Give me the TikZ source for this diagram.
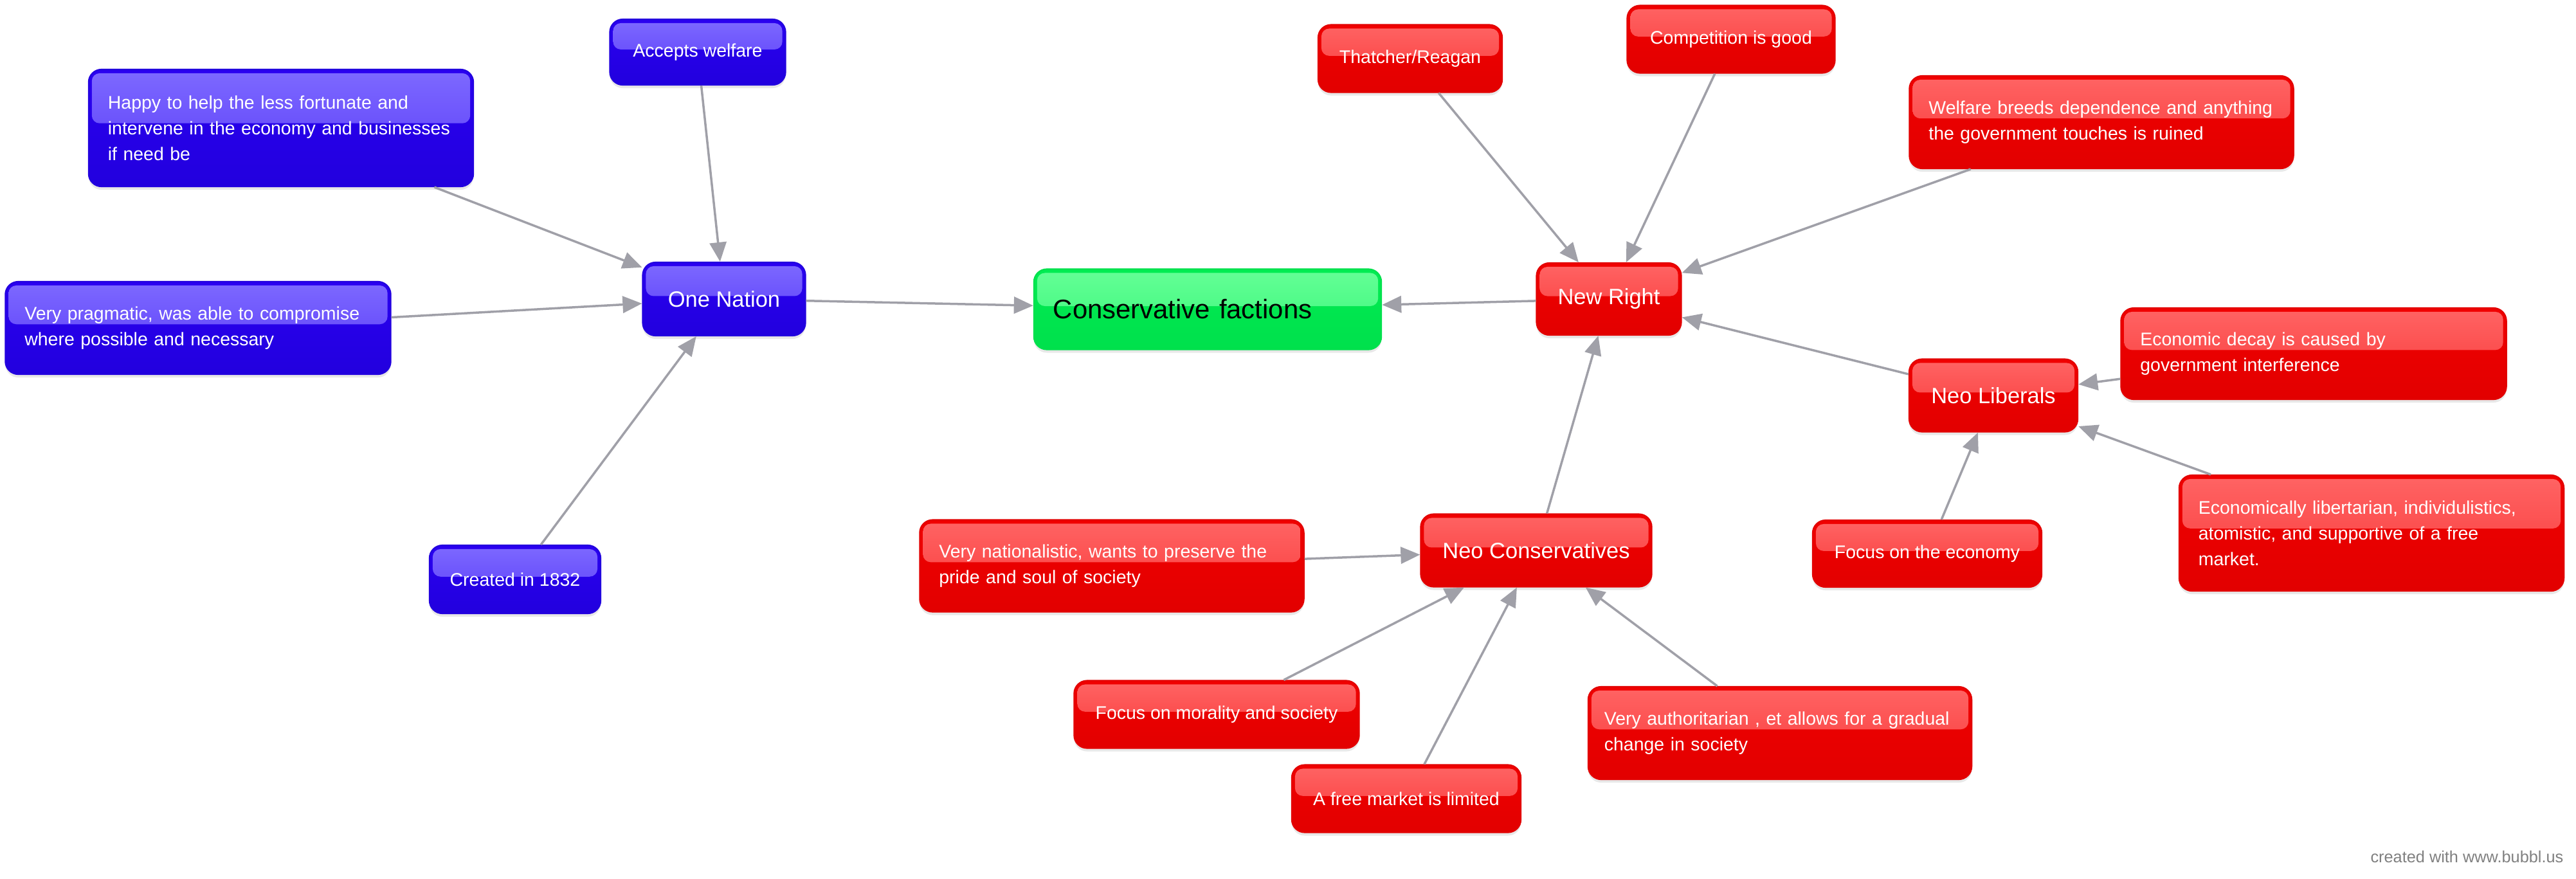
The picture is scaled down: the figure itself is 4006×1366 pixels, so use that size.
\documentclass[tikz,border=0pt]{standalone}
\usepackage{fontspec}
\setmainfont{Liberation Sans}
\usepackage{tikz}
\usetikzlibrary{arrows.meta, positioning, shadows, calc}

\hyphenpenalty=10000

\definecolor{bluebase}{RGB}{42,0,240}
\definecolor{bluedark}{RGB}{34,0,222}
\definecolor{bluelight}{RGB}{125,105,255}
\definecolor{redbase}{RGB}{240,0,0}
\definecolor{reddark}{RGB}{226,0,0}
\definecolor{redlight}{RGB}{255,100,100}
\definecolor{greenbase}{RGB}{0,236,82}
\definecolor{greendark}{RGB}{0,224,76}
\definecolor{greenlight}{RGB}{100,255,150}
\definecolor{linkgray}{RGB}{160,160,168}

\begin{document}
\begin{tikzpicture}[
		x=0.01cm, y=-0.01cm,
		% Glossy bubble, colour family given as argument
		bubble/.style={
			rectangle,
			draw=#1dark,
			line width=0.6pt,
			rounded corners=0.2cm,
			top color=#1base,
			bottom color=#1dark,
			inner xsep=0.3cm,
			inner ysep=0cm,
			drop shadow={opacity=0.18, shadow xshift=0cm, shadow yshift=-0.05cm},
			path picture={
				\shade[top color=#1light, bottom color=#1light!55!#1base, rounded corners=0.12cm]
				([xshift=0.05cm, yshift=-0.06cm]path picture bounding box.north west) rectangle
				([xshift=-0.05cm]$(path picture bounding box.north east)!0.46!(path picture bounding box.south east)$);
			}
		},
		small_text/.style={font=\fontsize{8.1}{11.4}\selectfont},
		main_text/.style={font=\fontsize{9.8}{12}\selectfont},
		blue_node/.style={bubble=blue, text=white, small_text},
		red_node/.style={bubble=red, text=white, small_text},
		green_node/.style={bubble=green, text=black, font=\fontsize{11.9}{14}\selectfont},
		arrow_style/.style={
			-{Triangle[length=0.3cm, width=0.26cm]},
			line width=0.035cm,
			draw=linkgray
		},
		]
		
		\useasboundingbox (0,0) rectangle (4006,1366);
		\fill[white] (0,0) rectangle (4006,1366);
		
		% ----- Centre -----
		\node[green_node, minimum width=5.4cm, minimum height=1.25cm, align=left, text width=4.8cm] (factions) at (1878,481) {Conservative factions};
		
		% ----- One Nation side -----
		\node[blue_node, main_text, minimum width=2.53cm, minimum height=1.14cm] (one_nation) at (1126,465) {One Nation};
		\node[blue_node, minimum width=2.73cm, minimum height=1.02cm] (accepts) at (1085,81) {Accepts welfare};
		\node[blue_node, text width=5.38cm, minimum height=1.82cm, align=left] (happy) at (437,199) {Happy to help the less fortunate and\\intervene in the economy and businesses\\if need be};
		\node[blue_node, text width=5.39cm, minimum height=1.44cm, align=left] (pragmatic) at (308,510) {Very pragmatic, was able to compromise\\where possible and necessary};
		\node[blue_node, minimum width=2.66cm, minimum height=1.06cm] (created) at (801,901) {Created in 1832};
		
		% ----- New Right side -----
		\node[red_node, main_text, minimum width=2.25cm, minimum height=1.12cm] (new_right) at (2502,465) {New Right};
		\node[red_node, minimum width=2.86cm, minimum height=1.05cm] (thatcher) at (2193,91) {Thatcher/Reagan};
		\node[red_node, minimum width=3.23cm, minimum height=1.05cm] (competition) at (2692,61) {Competition is good};
		\node[red_node, text width=5.37cm, minimum height=1.44cm, align=left] (welfare) at (3268,190) {Welfare breeds dependence and anything\\the government touches is ruined};
		
		% Neo Liberals
		\node[red_node, main_text, minimum width=2.62cm, minimum height=1.13cm] (neo_lib) at (3100,615) {Neo Liberals};
		\node[red_node, text width=5.39cm, minimum height=1.42cm, align=left] (econ_decay) at (3598,550) {Economic decay is caused by\\government interference};
		\node[red_node, minimum width=3.56cm, minimum height=1.04cm] (focus_econ) at (2997,861) {Focus on the economy};
		\node[red_node, text width=5.38cm, minimum height=1.8cm, align=left] (econ_lib) at (3688,829) {Economically libertarian, individulistics,\\atomistic, and supportive of a free\\market.};
		
		% Neo Conservatives
		\node[red_node, main_text, minimum width=3.59cm, minimum height=1.13cm] (neo_cons) at (2389,856) {Neo Conservatives};
		\node[red_node, text width=5.37cm, minimum height=1.43cm, align=left] (nationalistic) at (1729,880) {Very nationalistic, wants to preserve the\\pride and soul of society};
		\node[red_node, minimum width=4.43cm, minimum height=1.05cm] (morality) at (1892,1111) {Focus on morality and society};
		\node[red_node, minimum width=3.56cm, minimum height=1.05cm] (free_market) at (2187,1242) {A free market is limited};
		\node[red_node, inner xsep=0.25cm, text width=5.46cm, minimum height=1.44cm, align=left] (authoritarian) at (2768,1140) {Very authoritarian , et allows for a gradual\\change in society};
		
		\node[anchor=east, text=gray, font=\fontsize{7.2}{9}\selectfont, inner sep=0pt] (credit) at (3987,1332) {created with www.bubbl.us};
		
		% ----- Arrows -----
		\draw[arrow_style] (happy) -- (one_nation);
		\draw[arrow_style] (accepts) -- (one_nation);
		\draw[arrow_style] (pragmatic) -- (one_nation);
		\draw[arrow_style] (created) -- (one_nation);
		\draw[arrow_style] (one_nation) -- (factions);
		\draw[arrow_style] (new_right) -- (factions);
		
		\draw[arrow_style] (thatcher) -- (new_right);
		\draw[arrow_style] (competition) -- (new_right);
		\draw[arrow_style] (welfare) -- (new_right);
		\draw[arrow_style] (neo_lib) -- (new_right);
		\draw[arrow_style] (neo_cons) -- (new_right);
		
		\draw[arrow_style] (econ_decay) -- (neo_lib);
		\draw[arrow_style] (focus_econ) -- (neo_lib);
		\draw[arrow_style] (econ_lib) -- (neo_lib);
		
		\draw[arrow_style] (nationalistic) -- (neo_cons);
		\draw[arrow_style] (morality) -- (neo_cons);
		\draw[arrow_style] (free_market) -- (neo_cons);
		\draw[arrow_style] (authoritarian) -- (neo_cons);
		
	\end{tikzpicture}
\end{document}
